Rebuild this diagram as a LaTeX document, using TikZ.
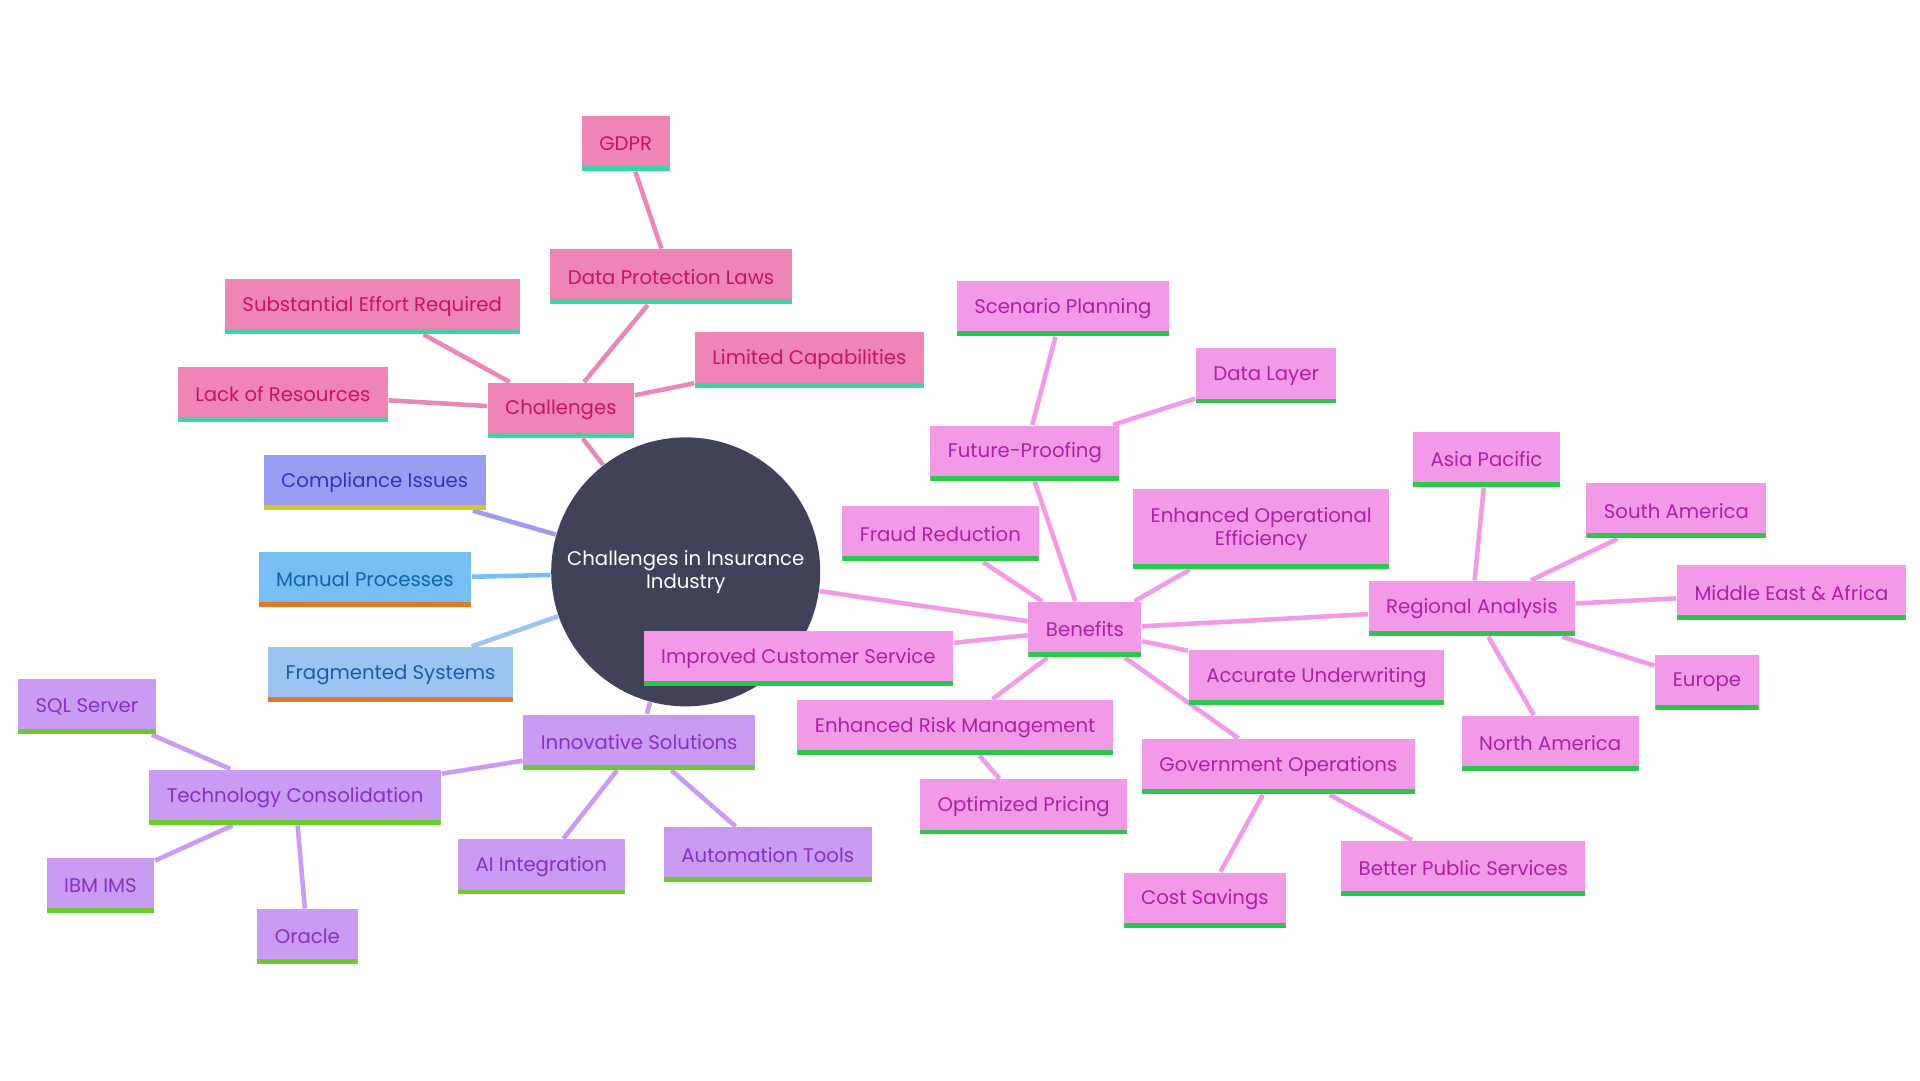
\documentclass[tikz,border=0pt]{standalone}
\usepackage{fontspec}
\setmainfont{Poppins}
\usetikzlibrary{backgrounds}
\definecolor{hub}{HTML}{3F4259}
\definecolor{chfill}{HTML}{EE85B5}\definecolor{chtext}{HTML}{C8155F}\definecolor{chline}{HTML}{E888B8}
\definecolor{cifill}{HTML}{9B9DF2}\definecolor{citext}{HTML}{2E35C0}
\definecolor{mpfill}{HTML}{77BEF2}\definecolor{mptext}{HTML}{1262B0}
\definecolor{fsfill}{HTML}{9BC4F0}\definecolor{fstext}{HTML}{1A5CA8}
\definecolor{isfill}{HTML}{CA9BF2}\definecolor{istext}{HTML}{8A2FC8}
\definecolor{befill}{HTML}{F29AE8}\definecolor{betext}{HTML}{B01FA8}
\definecolor{teal}{HTML}{3CD6A6}\definecolor{grn}{HTML}{2CC74A}\definecolor{lgrn}{HTML}{6CCB2C}
\definecolor{yel}{HTML}{D6C82A}\definecolor{org}{HTML}{DE7A2A}
\tikzset{
  leaf/.style n args={3}{fill=#1,text=#2,font=\fontsize{5.6}{6.6}\selectfont,
    minimum height=0.55cm,inner xsep=5pt,align=center,
    path picture={\fill[#3] (path picture bounding box.south west) rectangle
      ([yshift=1.4pt]path picture bounding box.south east);}},
  ch/.style={leaf={chfill}{chtext}{teal}},
  is/.style={leaf={isfill}{istext}{lgrn}},
  be/.style={leaf={befill}{betext}{grn}},
  link/.style={line width=1.3pt}
}
\begin{document}
\begin{tikzpicture}[x=0.012245cm,y=-0.012245cm]
\useasboundingbox (0,0) rectangle (1568,882);
\node[circle,fill=hub,text=white,minimum size=2.57cm,align=center,font=\fontsize{5.6}{6.6}\selectfont] (hub) at (560,467) {Challenges in Insurance\\Industry};
\node[ch] (chal) at (458,335) {Challenges};
\node[ch] (gdpr) at (511,117) {GDPR};
\node[ch] (dpl) at (548,226) {Data Protection Laws};
\node[ch] (effort) at (304,250) {Substantial Effort Required};
\node[ch] (limcap) at (661,294) {Limited Capabilities};
\node[ch] (lack) at (231,322) {Lack of Resources};
\node[leaf={cifill}{citext}{yel}] (comp) at (306,394) {Compliance Issues};
\node[leaf={mpfill}{mptext}{org}] (manual) at (298,473) {Manual Processes};
\node[leaf={fsfill}{fstext}{org}] (frag) at (319,551) {Fragmented Systems};
\node[is] (innov) at (522,606) {Innovative Solutions};
\node[is] (tech) at (241,651) {Technology Consolidation};
\node[is] (sql) at (71,577) {SQL Server};
\node[is] (ibm) at (82,723) {IBM IMS};
\node[is] (oracle) at (251,765) {Oracle};
\node[is] (ai) at (442,708) {AI Integration};
\node[is] (auto) at (627,698) {Automation Tools};
\node[be] (ben) at (886,514) {Benefits};
\node[be] (future) at (837,370) {Future-Proofing};
\node[be] (scen) at (868,252) {Scenario Planning};
\node[be] (layer) at (1034,307) {Data Layer};
\node[be] (fraud) at (768,436) {Fraud Reduction};
\node[be,minimum height=0.8cm] (opeff) at (1030,432) {Enhanced Operational\\Efficiency};
\node[be] (region) at (1202,497) {Regional Analysis};
\node[be] (asia) at (1214,375) {Asia Pacific};
\node[be] (samer) at (1369,417) {South America};
\node[be] (mea) at (1463,484) {Middle East \& Africa};
\node[be] (europe) at (1394,557) {Europe};
\node[be] (namer) at (1266,607) {North America};
\node[be] (under) at (1075,553) {Accurate Underwriting};
\node[be] (cust) at (652,538) {Improved Customer Service};
\node[be] (risk) at (780,594) {Enhanced Risk Management};
\node[be] (price) at (836,659) {Optimized Pricing};
\node[be] (gov) at (1044,626) {Government Operations};
\node[be] (public) at (1195,709) {Better Public Services};
\node[be] (cost) at (984,735) {Cost Savings};
\begin{scope}[on background layer]
\draw[link,chline] (hub) -- (chal);
\foreach \n in {dpl,effort,limcap,lack} \draw[link,chline] (chal) -- (\n);
\draw[link,chline] (dpl) -- (gdpr);
\draw[link,cifill] (hub) -- (comp);
\draw[link,mpfill] (hub) -- (manual);
\draw[link,fsfill] (hub) -- (frag);
\draw[link,isfill] (hub) -- (innov);
\foreach \n in {tech,ai,auto} \draw[link,isfill] (innov) -- (\n);
\foreach \n in {sql,ibm,oracle} \draw[link,isfill] (tech) -- (\n);
\draw[link,befill] (hub) -- (ben);
\foreach \n in {future,fraud,opeff,region,under,cust,risk,gov} \draw[link,befill] (ben) -- (\n);
\foreach \n in {scen,layer} \draw[link,befill] (future) -- (\n);
\foreach \n in {asia,samer,mea,europe,namer} \draw[link,befill] (region) -- (\n);
\draw[link,befill] (risk) -- (price);
\foreach \n in {public,cost} \draw[link,befill] (gov) -- (\n);
\end{scope}
\end{tikzpicture}
\end{document}
